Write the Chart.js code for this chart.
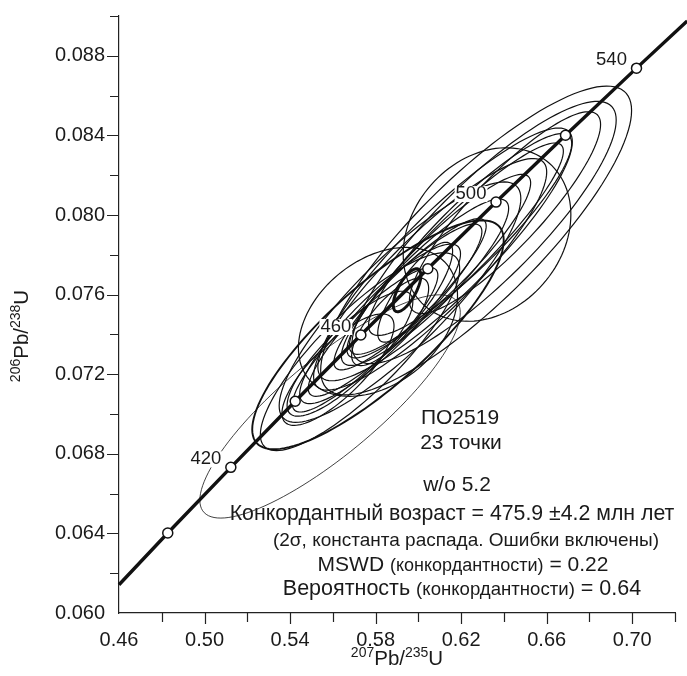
<!DOCTYPE html>
<html>
<head>
<meta charset="utf-8">
<script src="https://cdn.jsdelivr.net/npm/chart.js@4.4.0/dist/chart.umd.min.js"></script>
<style>
  html, body { margin: 0; padding: 0; background: #fff; }
  canvas { display: block; }
</style>
</head>
<body>
<canvas id="chart" width="687" height="676"></canvas>
<script>
// concordia curve (207Pb/235U, 206Pb/238U)
const concX = [0.4600, 0.4828, 0.5123, 0.5424, 0.5731, 0.6044, 0.6363, 0.6688, 0.7020, 0.7257];
const concY = [0.06142, 0.06402, 0.06732, 0.07064, 0.07397, 0.07730, 0.08065, 0.08401, 0.08738, 0.08975];

// age markers on the concordia (Ma)
const markAge = [400, 420, 440, 460, 480, 500, 520, 540];
const markX = [0.4828, 0.5123, 0.5424, 0.5731, 0.6044, 0.6363, 0.6688, 0.7020];
const markY = [0.06402, 0.06732, 0.07064, 0.07397, 0.07730, 0.08065, 0.08401, 0.08738];
const labelledAges = [420, 460, 500, 540];

// 23 analyses: centres, 2-sigma errors, error correlation
const ellX    = [0.6270, 0.6307, 0.5811, 0.5587, 0.6321, 0.5811, 0.6405, 0.6242, 0.6172, 0.6101, 0.6031, 0.5961,
                 0.5891, 0.5821, 0.5751, 0.5680, 0.5624, 0.6055, 0.5914, 0.5985, 0.5868, 0.6125, 0.5727];
const ellXErr = [0.0727, 0.0618, 0.0588, 0.0609, 0.0392, 0.0372, 0.0447, 0.0475, 0.0506, 0.0424, 0.0391, 0.0356,
                 0.0406, 0.0376, 0.0340, 0.0294, 0.0262, 0.0545, 0.0565, 0.0175, 0.0180, 0.0595, 0.0466];
const ellY    = [0.07872, 0.07912, 0.07398, 0.07038, 0.07902, 0.07463, 0.08012, 0.07902, 0.07822, 0.07752, 0.07662, 0.07602,
                 0.07522, 0.07453, 0.07373, 0.07303, 0.07223, 0.07702, 0.07562, 0.07612, 0.07463, 0.07802, 0.07313];
const ellYErr = [0.00776, 0.00659, 0.00575, 0.00561, 0.00436, 0.00374, 0.00507, 0.00507, 0.00540, 0.00452, 0.00418, 0.00380,
                 0.00433, 0.00401, 0.00363, 0.00314, 0.00280, 0.00582, 0.00604, 0.00251, 0.00220, 0.00635, 0.00497];
const ellRho  = [0.841, 0.857, 0.827, 0.840, 0.229, 0.352, 0.873, 0.901, 0.923, 0.904, 0.888, 0.901,
                 0.910, 0.878, 0.891, 0.829, 0.785, 0.882, 0.862, 0.820, 0.763, 0.891, 0.839];

// concordia age ellipse
const concAge = { x: 0.5947, y: 0.07622, sx: 0.00645, sy: 0.00108, rho: 0.688 };

// axis ticks
const xTickVals = [0.46, 0.48, 0.50, 0.52, 0.54, 0.56, 0.58, 0.60, 0.62, 0.64, 0.66, 0.68, 0.70, 0.72];
const xTickLabels = ['0.46', '', '0.50', '', '0.54', '', '0.58', '', '0.62', '', '0.66', '', '0.70', ''];
const yTickVals = [0.060, 0.062, 0.064, 0.066, 0.068, 0.070, 0.072, 0.074, 0.076, 0.078, 0.080, 0.082, 0.084, 0.086, 0.088, 0.090];
const yTickLabels = ['0.060', '', '0.064', '', '0.068', '', '0.072', '', '0.076', '', '0.080', '', '0.084', '', '0.088', ''];

const FONT = "'Liberation Sans', Arial, sans-serif";
const INK = "#1a1a1a";

// draw an error ellipse through the chart scales
function traceEllipse(ctx, xs, ys, cx, cy, sx, sy, r) {
  const q = Math.sqrt(1 - r * r);
  ctx.beginPath();
  for (let k = 0; k <= 120; k++) {
    const t = k / 120 * Math.PI * 2;
    const px = xs.getPixelForValue(cx + sx * Math.cos(t));
    const py = ys.getPixelForValue(cy + sy * (r * Math.cos(t) + q * Math.sin(t)));
    if (k === 0) ctx.moveTo(px, py); else ctx.lineTo(px, py);
  }
  ctx.closePath();
}

// text made of pieces with different sizes / baseline shifts
function drawRich(ctx, parts, cx, baseY) {
  let w = 0;
  parts.forEach(p => { ctx.font = p[1] + "px " + FONT; w += ctx.measureText(p[0]).width; });
  let x = cx - w / 2;
  ctx.textAlign = "left";
  ctx.textBaseline = "alphabetic";
  parts.forEach(p => {
    ctx.font = p[1] + "px " + FONT;
    ctx.fillText(p[0], x, baseY + (p[2] || 0));
    x += ctx.measureText(p[0]).width;
  });
}

const boldEllipses = [2];
const faintEllipses = [3];

const ellipsePlugin = {
  id: "ellipses",
  beforeDatasetsDraw(chart) {
    const { ctx, scales: { x, y } } = chart;
    ctx.save();
    ctx.strokeStyle = "#111";
    for (let i = 0; i < ellX.length; i++) {
      traceEllipse(ctx, x, y, ellX[i], ellY[i], ellXErr[i], ellYErr[i], ellRho[i]);
      ctx.lineWidth = boldEllipses.includes(i) ? 1.9 : (faintEllipses.includes(i) ? 0.8 : 1.2);
      ctx.stroke();
    }
    traceEllipse(ctx, x, y, concAge.x, concAge.y, concAge.sx, concAge.sy, concAge.rho);
    ctx.lineWidth = 3;
    ctx.stroke();
    ctx.restore();
  },
  afterDatasetsDraw(chart) {
    const { ctx, scales: { x, y } } = chart;
    ctx.save();
    ctx.font = "18.5px " + FONT;
    ctx.textAlign = "center";
    ctx.textBaseline = "middle";
    markAge.forEach((a, i) => {
      if (!labelledAges.includes(a)) return;
      const px = x.getPixelForValue(markX[i]) - 25;
      const py = y.getPixelForValue(markY[i]) - 8;
      const w = ctx.measureText(String(a)).width;
      ctx.fillStyle = "#fff";
      ctx.fillRect(px - w / 2 - 1, py - 8, w + 2, 16);
      ctx.fillStyle = INK;
      ctx.fillText(String(a), px, py);
    });
    ctx.restore();
  },
  afterDraw(chart) {
    const { ctx, chartArea: ca, scales: { x, y } } = chart;
    ctx.save();
    // tick marks
    ctx.strokeStyle = "#222";
    ctx.lineWidth = 1.2;
    ctx.beginPath();
    xTickVals.forEach((v, i) => {
      if (i === 0) return;
      const px = Math.round(x.getPixelForValue(v)) + 0.5;
      ctx.moveTo(px, ca.bottom);
      ctx.lineTo(px, ca.bottom + (xTickLabels[i] ? 11 : 9));
    });
    yTickVals.forEach((v, i) => {
      if (i === 0) return;
      const py = Math.round(y.getPixelForValue(v)) + 0.5;
      ctx.moveTo(ca.left, py);
      ctx.lineTo(ca.left - (yTickLabels[i] ? 12 : 9), py);
    });
    ctx.stroke();

    ctx.fillStyle = INK;
    // axis titles
    drawRich(ctx, [["207", 14, -8], ["Pb/", 20.5], ["235", 14, -8], ["U", 20.5]], (ca.left + ca.right) / 2, 665);
    ctx.save();
    ctx.translate(28, 336);
    ctx.rotate(-Math.PI / 2);
    drawRich(ctx, [["206", 14, -8], ["Pb/", 20.5], ["238", 14, -8], ["U", 20.5]], 0, 0);
    ctx.restore();

    // result block
    drawRich(ctx, [["ПО2519", 21]], 460, 424);
    drawRich(ctx, [["23 точки", 21]], 461, 449);
    drawRich(ctx, [["w/o 5.2", 21]], 457, 491);
    drawRich(ctx, [["Конкордантный возраст = 475.9 ±4.2 млн лет", 21.3]], 452, 520);
    drawRich(ctx, [["(2σ, константа распада. Ошибки включены)", 19]], 466, 546);
    drawRich(ctx, [["MSWD ", 21], ["(конкордантности)", 18], [" = 0.22", 21]], 463, 571);
    drawRich(ctx, [["Вероятность ", 21.5], ["(конкордантности)", 18.6], [" = 0.64", 21.5]], 462, 595);
    ctx.restore();
  }
};

const ctx = document.getElementById("chart").getContext("2d");
const chart = new Chart(ctx, {
  type: "scatter",
  data: {
    datasets: [
      {
        label: "age markers",
        data: markX.map((v, i) => ({ x: v, y: markY[i] })),
        pointRadius: 5,
        pointBackgroundColor: "#fff",
        pointBorderColor: "#111",
        pointBorderWidth: 1.5,
        showLine: false,
        clip: false
      },
      {
        label: "concordia",
        data: concX.map((v, i) => ({ x: v, y: concY[i] })),
        showLine: true,
        borderColor: "#111",
        borderWidth: 3.4,
        pointRadius: 0,
        tension: 0,
        clip: false
      }
    ]
  },
  options: {
    responsive: false,
    animation: false,
    devicePixelRatio: 1,
    layout: { padding: { top: 12, right: 12, left: 0, bottom: 0 } },
    plugins: { legend: { display: false }, tooltip: { enabled: false } },
    scales: {
      x: {
        type: "linear",
        min: 0.46,
        max: 0.72,
        afterFit(s) { s.height = 63; },
        afterBuildTicks(s) { s.ticks = xTickVals.map(v => ({ value: v })); },
        ticks: {
          autoSkip: false,
          maxRotation: 0,
          padding: 5,
          color: INK,
          font: { family: FONT, size: 20 },
          callback: (v, i) => xTickLabels[i]
        },
        grid: { drawOnChartArea: false, drawTicks: true, tickLength: 10, color: "rgba(0,0,0,0)" },
        border: { display: true, color: "#222", width: 1.2 }
      },
      y: {
        type: "linear",
        min: 0.060,
        max: 0.090,
        afterFit(s) { s.width = 119; },
        afterBuildTicks(s) { s.ticks = yTickVals.map(v => ({ value: v })); },
        ticks: {
          autoSkip: false,
          padding: 4,
          color: INK,
          font: { family: FONT, size: 20 },
          callback: (v, i) => yTickLabels[i]
        },
        grid: { drawOnChartArea: false, drawTicks: true, tickLength: 10, color: "rgba(0,0,0,0)" },
        border: { display: true, color: "#222", width: 1.2 }
      }
    }
  },
  plugins: [ellipsePlugin]
});
</script>
</body>
</html>
